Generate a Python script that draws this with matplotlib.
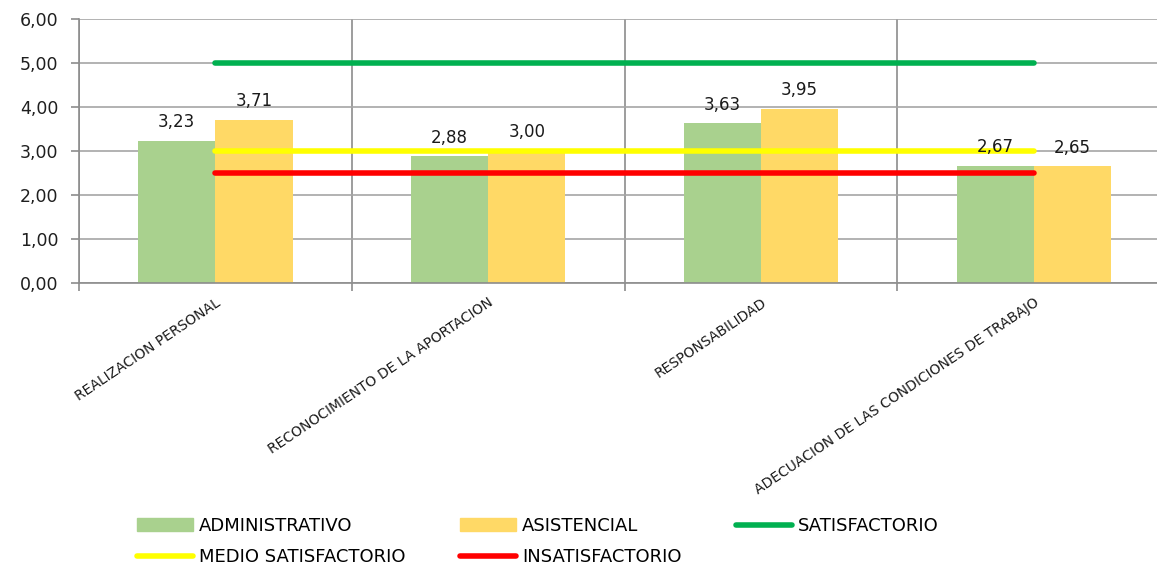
import numpy as np
import matplotlib
matplotlib.use("Agg")
import matplotlib.pyplot as plt
from matplotlib.patches import Patch
from matplotlib.lines import Line2D

categories = ["REALIZACION PERSONAL",
              "RECONOCIMIENTO DE LA APORTACION",
              "RESPONSABILIDAD",
              "ADECUACION DE LAS CONDICIONES DE TRABAJO"]
administrativo = [3.23, 2.88, 3.63, 2.67]
asistencial = [3.71, 3.00, 3.95, 2.65]
satisfactorio = [5.00, 5.00, 5.00, 5.00]
medio_satisfactorio = [3.00, 3.00, 3.00, 3.00]
insatisfactorio = [2.50, 2.50, 2.50, 2.50]
y_ticks = [0, 1, 2, 3, 4, 5, 6]

def coma(v):
    return ("%.2f" % v).replace(".", ",")

plt.rcParams['font.family'] = ['DejaVu Sans']

fig = plt.figure(figsize=(11.57, 5.67), dpi=100)
ax = fig.add_axes([0.0683, 0.5009, 0.943, 0.4656])

x = np.arange(len(categories))
w = 0.283

b1 = ax.bar(x - w/2, administrativo, w, color='#a9d18e', zorder=2)
b2 = ax.bar(x + w/2, asistencial, w, color='#ffd966', zorder=2)

l1, = ax.plot(x, satisfactorio, color='#00b050', lw=4, solid_capstyle='round', zorder=3)
l2, = ax.plot(x, medio_satisfactorio, color='#ffff00', lw=4, solid_capstyle='round', zorder=3)
l3, = ax.plot(x, insatisfactorio, color='#ff0000', lw=4, solid_capstyle='round', zorder=3)

for bars, vals in ((b1, administrativo), (b2, asistencial)):
    for r, v in zip(bars, vals):
        ax.annotate(coma(v), (r.get_x() + r.get_width()/2, v),
                    xytext=(0, 7), textcoords='offset points',
                    ha='center', va='bottom', fontsize=12,
                    color='#1a1a1a', zorder=5)

ax.set_xlim(-0.5, len(categories) - 0.5)
ax.set_ylim(0, 6)
ax.set_yticks(y_ticks)
ax.set_yticklabels([coma(t) for t in y_ticks], fontsize=12.5, color='#1f1f1f')

ax.set_xticks(x)
ax.set_xticklabels(categories, rotation=34, ha='right', rotation_mode='anchor',
                   fontsize=10, color='#1a1a1a')
ax.tick_params(axis='x', which='major', length=0, pad=9)
ax.set_xticks(np.arange(len(categories) + 1) - 0.5, minor=True)
ax.tick_params(axis='x', which='minor', length=6, color='#8c8c8c', width=1.2)
ax.tick_params(axis='y', length=6, color='#8c8c8c', width=1.2, pad=9)

ax.grid(axis='y', which='major', color='#a6a6a6', lw=1.2, zorder=0)
ax.grid(axis='x', which='minor', color='#8c8c8c', lw=1.2, zorder=0)
ax.set_axisbelow(True)

for s in ('top', 'right'):
    ax.spines[s].set_visible(False)
for s in ('left', 'bottom'):
    ax.spines[s].set_color('#8c8c8c')
    ax.spines[s].set_linewidth(1.2)

handles = [Patch(color='#a9d18e'), l2, Patch(color='#ffd966'), l3, l1]
labels = ["ADMINISTRATIVO", "MEDIO SATISFACTORIO", "ASISTENCIAL",
          "INSATISFACTORIO", "SATISFACTORIO"]
fig.legend(handles, labels, ncol=3, loc='upper left',
           bbox_to_anchor=(137/1157, 1 - 517/567), frameon=False,
           fontsize=13, handlelength=3.1, handletextpad=0.35,
           columnspacing=3.0, labelspacing=0.72, borderpad=0, borderaxespad=0)

fig.savefig("out.png", dpi=100)
